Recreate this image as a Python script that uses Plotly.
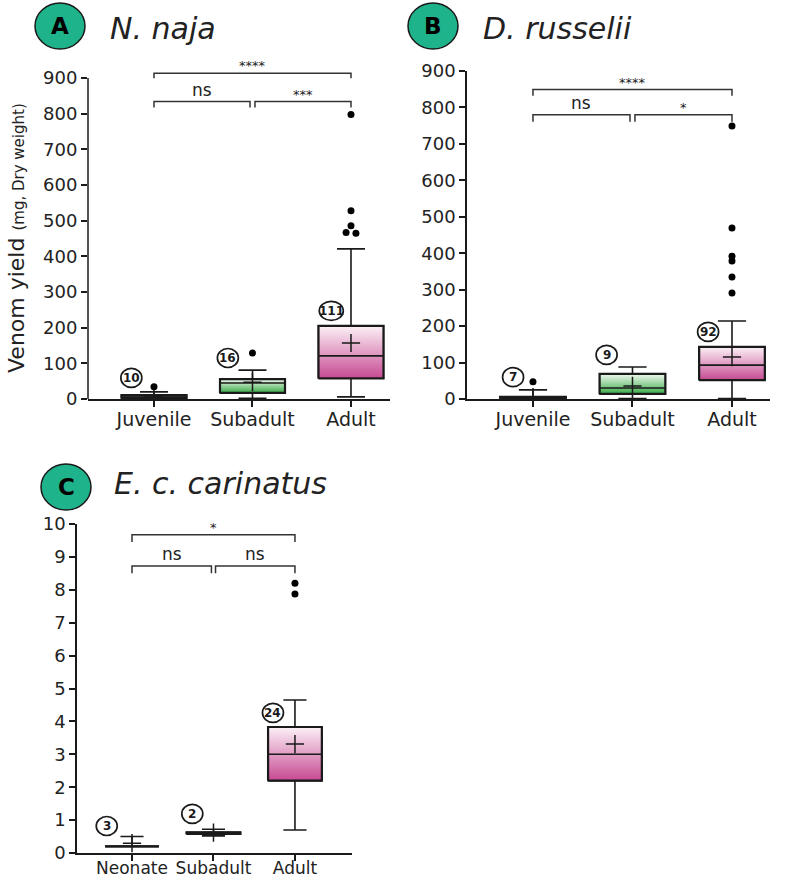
import plotly.graph_objects as go

W, H = 800, 882
FONT = "DejaVu Sans"
INK = "#1a1a1a"

# ---------------- data ----------------
cats_naja = ["Juvenile", "Subadult", "Adult"]
cats_russ = ["Juvenile", "Subadult", "Adult"]
cats_car = ["Neonate", "Subadult", "Adult"]

naja_q1 = [2, 17, 58]
naja_median = [5, 45, 121]
naja_q3 = [11, 56, 205]
naja_lower = [0, 2, 6]
naja_upper = [20, 81, 421]
naja_mean = [7, 47, 157]
naja_n = [10, 16, 111]
naja_outliers = [[34], [129], [798, 528, 486, 467, 465]]
naja_sig = ["ns", "***", "****"]          # (0-1), (1-2), (0-2)

russ_q1 = [1, 14, 52]
russ_median = [3, 30, 93]
russ_q3 = [6, 69, 143]
russ_lower = [0, 1, 1]
russ_upper = [25, 88, 214]
russ_mean = [5, 36, 115]
russ_n = [7, 9, 92]
russ_outliers = [[47], [], [749, 469, 392, 379, 335, 291]]
russ_sig = ["ns", "*", "****"]

car_q1 = [0.2, 0.58, 2.2]
car_median = [0.2, 0.6, 3.0]
car_q3 = [0.2, 0.63, 3.83]
car_lower = [0.2, 0.52, 0.7]
car_upper = [0.5, 0.72, 4.65]
car_mean = [0.3, 0.62, 3.31]
car_n = [3, 2, 24]
car_outliers = [[], [], [8.2, 7.87]]
car_sig = ["ns", "ns", "*"]

# ---------------- styling ----------------
GRAD = [
    [[0, "#3b2b2b"], [1, "#6a5555"]],      # juvenile / neonate
    [[0, "#3aab48"], [1, "#f1f9f1"]],      # subadult
    [[0, "#c64a92"], [1, "#fcf1f7"]],      # adult
]
BOXW = 0.66


def px(x):
    return x / W


def py(y):
    return 1 - y / H


fig = go.Figure()
shapes = []
annotations = []


def add_panel(ax, q1, med, q3, lo, hi, mean, outliers, rng):
    xa = "x" if ax == 1 else f"x{ax}"
    ya = "y" if ax == 1 else f"y{ax}"
    for i in range(len(q1)):
        # whiskers + caps from a box trace
        fig.add_trace(go.Box(
            x=[i], q1=[q1[i]], median=[med[i]], q3=[q3[i]],
            lowerfence=[lo[i]], upperfence=[hi[i]],
            width=BOXW, whiskerwidth=0.43, boxpoints=False,
            fillcolor="rgba(0,0,0,0)", line=dict(color=INK, width=1.6),
            showlegend=False, xaxis=xa, yaxis=ya, hoverinfo="skip"))
        # gradient-filled box body
        fig.add_trace(go.Scatter(
            x=[i - BOXW / 2, i + BOXW / 2, i + BOXW / 2, i - BOXW / 2, i - BOXW / 2],
            y=[q1[i], q1[i], q3[i], q3[i], q1[i]],
            mode="lines", fill="toself",
            fillgradient=dict(type="vertical", colorscale=GRAD[i]),
            line=dict(color=INK, width=2.2),
            showlegend=False, xaxis=xa, yaxis=ya, hoverinfo="skip"))
        # median
        fig.add_trace(go.Scatter(
            x=[i - BOXW / 2, i + BOXW / 2], y=[med[i], med[i]], mode="lines",
            line=dict(color=INK, width=1.6), showlegend=False,
            xaxis=xa, yaxis=ya, hoverinfo="skip"))
        # mean
        fig.add_trace(go.Scatter(
            x=[i], y=[mean[i]], mode="markers",
            marker=dict(symbol="cross-thin", size=13, line=dict(color=INK, width=1.5)),
            showlegend=False, xaxis=xa, yaxis=ya, hoverinfo="skip"))
        # outliers (dodge near-identical values)
        ox, oy = [], []
        vals = outliers[i]
        for k, v in enumerate(vals):
            close = [j for j, w in enumerate(vals) if abs(w - v) < 0.006 * rng]
            if len(close) > 1:
                pos = close.index(k)
                ox.append(i + (pos - (len(close) - 1) / 2) * 0.1)
            else:
                ox.append(i)
            oy.append(v)
        if oy:
            fig.add_trace(go.Scatter(
                x=ox, y=oy, mode="markers",
                marker=dict(symbol="circle", size=7, color="black"),
                showlegend=False, xaxis=xa, yaxis=ya, hoverinfo="skip"))


add_panel(1, naja_q1, naja_median, naja_q3, naja_lower, naja_upper, naja_mean, naja_outliers, 900)
add_panel(2, russ_q1, russ_median, russ_q3, russ_lower, russ_upper, russ_mean, russ_outliers, 900)
add_panel(3, car_q1, car_median, car_q3, car_lower, car_upper, car_mean, car_outliers, 10)


def brackets(ax, sig, top, top_drop, low, low_drop):
    xa = "x" if ax == 1 else f"x{ax}"
    ya = "y" if ax == 1 else f"y{ax}"
    g = 0.025
    segs = [(0, 1 - g, low, low_drop, sig[0]),
            (1 + g, 2, low, low_drop, sig[1]),
            (0, 2, top, top_drop, sig[2])]
    for a, b, lvl, d, txt in segs:
        shapes.append(dict(type="path", xref=xa, yref=ya,
                           path=f"M {a},{lvl - d} L {a},{lvl} L {b},{lvl} L {b},{lvl - d}",
                           line=dict(color="#333333", width=1.5)))
        is_ns = txt == "ns"
        annotations.append(dict(x=(a + b) / 2, y=lvl, xref=xa, yref=ya,
                                xanchor="center", yanchor="bottom",
                                text=txt, showarrow=False,
                                yshift=0 if is_ns else -2,
                                font=dict(family=FONT, size=17 if is_ns else 13, color="#222")))


brackets(1, naja_sig, 913, 14, 834, 17)
brackets(2, russ_sig, 849, 17, 780, 19)
brackets(3, car_sig, 9.67, 0.22, 8.72, 0.22)

# sample-size circles (label positions)
count_pos = {
    1: [(-0.23, 59), (0.75, 115), (1.80, 247)],
    2: [(-0.20, 60), (0.74, 121), (1.76, 184)],
    3: [(-0.31, 0.82), (0.74, 1.19), (1.73, 4.26)],
}
for ax, ns in [(1, naja_n), (2, russ_n), (3, car_n)]:
    xa = "x" if ax == 1 else f"x{ax}"
    ya = "y" if ax == 1 else f"y{ax}"
    for (cx, cy), n in zip(count_pos[ax], ns):
        hw = 12 if len(str(n)) >= 3 else 10.5
        shapes.append(dict(type="circle", xref=xa, yref=ya,
                           xsizemode="pixel", ysizemode="pixel",
                           xanchor=cx, yanchor=cy, x0=-hw, x1=hw, y0=-9.5, y1=9.5,
                           fillcolor="white", line=dict(color=INK, width=1.7), layer="above"))
        annotations.append(dict(x=cx, y=cy, xref=xa, yref=ya, text=f"<b>{n}</b>",
                                xanchor="center", yanchor="middle",
                                showarrow=False, font=dict(family=FONT, size=12, color=INK)))

# y axis line for panel A (range extends above 900 to leave room for brackets)
shapes.append(dict(type="line", xref="x domain", yref="y", x0=0, x1=0, y0=0, y1=900,
                   line=dict(color=INK, width=1.5)))

# panel badges & titles
for letter, (cx, cy), title, (tx, ty) in [
    ("A", (60, 26), "N. naja", (108, 29)),
    ("B", (433, 26), "D. russelii", (481, 29)),
    ("C", (66, 487), "E. c. carinatus", (112, 483)),
]:
    shapes.append(dict(type="circle", xref="paper", yref="paper",
                       xsizemode="pixel", ysizemode="pixel",
                       xanchor=px(cx), yanchor=py(cy), x0=-25, x1=25, y0=-23, y1=23,
                       fillcolor="#1fb38b", line=dict(color=INK, width=1.5)))
    annotations.append(dict(x=px(cx), y=py(cy), xref="paper", yref="paper",
                            xanchor="center", yanchor="middle",
                            text=f"<b>{letter}</b>", showarrow=False,
                            font=dict(family=FONT, size=23, color="black")))
    annotations.append(dict(x=px(tx), y=py(ty), xref="paper", yref="paper",
                            xanchor="left", yanchor="middle", text=f"<i>{title}</i>",
                            showarrow=False, font=dict(family=FONT, size=30, color="#222")))

annotations.append(dict(x=px(17), y=py(238), xref="paper", yref="paper", textangle=-90,
                        xanchor="center", yanchor="middle",
                        text="Venom yield <span style='font-size:15px'>(mg, Dry weight)</span>",
                        showarrow=False, font=dict(family=FONT, size=22, color="#222")))

tickfont = dict(family=FONT, size=18, color="#222")


def xaxis(domain, rng, cats, size=19, standoff=-4):
    return dict(domain=domain, range=rng, tickvals=[0, 1, 2], ticktext=cats,
                showline=True, linecolor=INK, linewidth=1.5, ticks="outside",
                ticklen=6, tickwidth=1.5, tickcolor=INK,
                tickfont=dict(family=FONT, size=size, color="#222"),
                tickangle=0, ticklabelstandoff=standoff, automargin=False,
                showgrid=False, zeroline=False, fixedrange=True)


def yaxis(domain, rng, tv, line=True):
    return dict(domain=domain, range=rng, tickvals=tv, showline=line, linecolor=INK,
                linewidth=1.5, ticks="outside", ticklen=6, tickwidth=1.5, tickcolor=INK,
                tickfont=tickfont, automargin=False,
                showgrid=False, zeroline=False, fixedrange=True)


fig.update_layout(
    width=W, height=H, margin=dict(l=0, r=0, t=0, b=0, autoexpand=False),
    paper_bgcolor="white", plot_bgcolor="white", showlegend=False,
    xaxis=dict(xaxis([px(88), px(390)], [-0.67, 2.396], cats_naja), anchor="y"),
    yaxis=dict(yaxis([py(399), py(67.3)], [0, 930], list(range(0, 901, 100)), line=False), anchor="x"),
    xaxis2=dict(xaxis([px(467), px(770)], [-0.663, 2.382], cats_russ), anchor="y2"),
    yaxis2=dict(yaxis([py(399), py(71)], [0, 900], list(range(0, 901, 100))), anchor="x2"),
    xaxis3=dict(xaxis([px(77), px(352)], [-0.675, 2.70], cats_car, size=17, standoff=-7), anchor="y3"),
    yaxis3=dict(yaxis([py(853), py(524)], [0, 10], list(range(0, 11))), anchor="x3"),
    shapes=shapes, annotations=annotations,
)

fig.write_html("out.html")
